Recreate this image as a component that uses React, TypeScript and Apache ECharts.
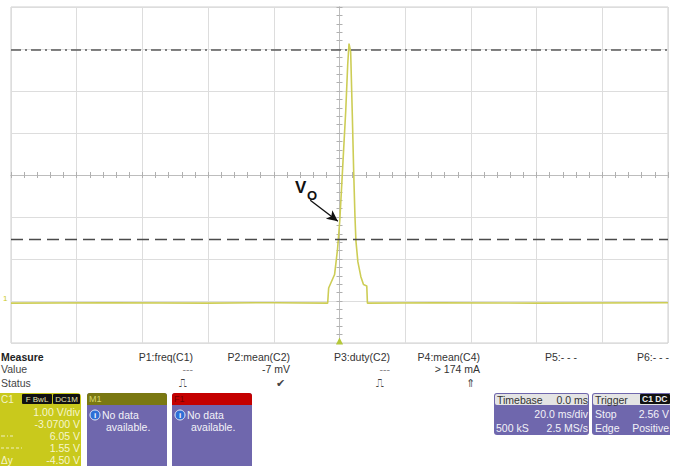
import React, { useEffect, useRef } from "react";
import * as echarts from "echarts";

// Channel C1 trace (time in ms, volts)
const timeMs = [-100, -70, -40, -20, -3.6, -3.3, -1.5, -0.6, 0.1, 1.0, 1.9, 2.5, 2.9, 3.4, 3.9, 4.3, 4.7, 5.0, 5.6, 6.5, 7.3, 8.3, 8.5, 30, 60, 100];
const voltsC1 = [0.02, 0.03, 0.02, 0.03, 0.02, 0.38, 0.7, 1.3, 2.0, 3.3, 4.6, 5.7, 6.2, 6.0, 4.5, 3.2, 2.1, 1.5, 1.0, 0.65, 0.46, 0.43, 0.02, 0.03, 0.02, 0.03];

// Scope settings
const voltsPerDiv = 1.0;
const offsetVolts = -3.07;
const msPerDiv = 20;
const cursorVolts = [6.05, 1.55];
// V_O annotation arrow (time ms, volts)
const arrowFrom = [-8.9, 2.47];
const arrowTo = [-0.5, 1.97];

// Measurement table
const measureHeaders = ["P1:freq(C1)", "P2:mean(C2)", "P3:duty(C2)", "P4:mean(C4)", "P5:- - -", "P6:- - -"];
const measureValues = ["---", "-7 mV", "---", "> 174 mA", "", ""];
const measureStatus = ["⎍", "✔", "⎍", "⇑", "", ""];
const c1Lines = ["1.00 V/div", "-3.0700 V", "6.05 V", "1.55 V", "-4.50 V"];

const toDiv = (v: number) => (v + offsetVolts) / voltsPerDiv;

const FONT = "Liberation Sans, Arial, sans-serif";
const PURPLE = "#6f67ad";
const YELLOW = "#c9c91c";

export default function App() {
  const ref = useRef<HTMLDivElement>(null);
  useEffect(() => {
    const chart = echarts.init(ref.current!, undefined, { renderer: "svg" });
    const trace = timeMs.map((t, i) => [t, toDiv(voltsC1[i])]);

    const txt = (text: string, x: number, y: number, opts: any = {}) => ({
      type: "text",
      x,
      y,
      z: 10,
      style: {
        text,
        fill: opts.fill || "#333",
        font: `${opts.weight || "normal"} ${opts.size || 10.5}px ${FONT}`,
        textAlign: opts.align || "left",
        textVerticalAlign: "middle",
      },
    });

    const colRight = [193, 290, 390, 480, 577, 669];
    const graphics: any[] = [];
    graphics.push(txt("Measure", 1, 357, { weight: "bold", fill: "#222" }));
    graphics.push(txt("Value", 1, 369, { fill: "#444" }));
    graphics.push(txt("Status", 1, 383, { fill: "#444" }));
    measureHeaders.forEach((h, i) => {
      graphics.push(txt(h, colRight[i], 357, { align: "right", fill: "#333" }));
      if (measureValues[i]) graphics.push(txt(measureValues[i], colRight[i], 369, { align: "right", fill: measureValues[i] === "---" ? "#888" : "#333" }));
      if (measureStatus[i]) graphics.push(txt(measureStatus[i], colRight[i] - 10, 383, { align: "center", fill: "#444", size: 11 }));
    });

    // C1 panel
    graphics.push({ type: "rect", z: 5, shape: { x: -5, y: 393, width: 86, height: 80, r: [0, 4, 0, 0] }, style: { fill: YELLOW } });
    graphics.push(txt("C1", 1, 399, { fill: "#f4f4c8", size: 10 }));
    graphics.push({ type: "rect", z: 6, shape: { x: 22, y: 394, width: 30, height: 10, r: 1 }, style: { fill: "#111" } });
    graphics.push({ type: "rect", z: 6, shape: { x: 53, y: 394, width: 27, height: 10, r: 1 }, style: { fill: "#111" } });
    graphics.push(txt("F BwL", 37, 399, { align: "center", fill: "#e8e8b0", size: 8 }));
    graphics.push(txt("DC1M", 66.5, 399, { align: "center", fill: "#e8e8b0", size: 8 }));
    c1Lines.forEach((s, i) => graphics.push(txt(s, 80, 412 + i * 12, { align: "right", fill: "#f6f6cc", size: 10.5 })));
    graphics.push({ type: "line", z: 6, shape: { x1: 1, y1: 436, x2: 13, y2: 436 }, style: { stroke: "#f0f0c0", lineWidth: 1, lineDash: [4, 2, 1, 2] } });
    graphics.push({ type: "line", z: 6, shape: { x1: 1, y1: 448, x2: 22, y2: 448 }, style: { stroke: "#f0f0c0", lineWidth: 1, lineDash: [3, 2] } });
    graphics.push(txt("Δy", 1, 460, { fill: "#f6f6cc", size: 10 }));

    // M1 and F1 panels
    const memPanel = (x: number, headColor: string, label: string, labelColor: string) => {
      graphics.push({ type: "rect", z: 5, shape: { x, y: 393, width: 80, height: 80, r: 3 }, style: { fill: PURPLE } });
      graphics.push({ type: "rect", z: 6, shape: { x, y: 393, width: 80, height: 12, r: [3, 3, 0, 0] }, style: { fill: headColor } });
      graphics.push(txt(label, x + 2, 399, { fill: labelColor, size: 9 }));
      graphics.push({ type: "circle", z: 6, shape: { cx: x + 8, cy: 415, r: 5 }, style: { fill: "#2f6fd6", stroke: "#e8eefc", lineWidth: 1 } });
      graphics.push(txt("i", x + 8, 415, { align: "center", fill: "#fff", weight: "bold", size: 8 }));
      graphics.push(txt("No data", x + 15, 415, { fill: "#f2f2f8" }));
      graphics.push(txt("available.", x + 19, 427, { fill: "#f2f2f8" }));
    };
    memPanel(87, "#7a7812", "M1", "#d6d66a");
    memPanel(172, "#c40000", "F1", "#7a0000");

    // Timebase panel
    graphics.push({ type: "rect", z: 5, shape: { x: 494, y: 393, width: 95, height: 42, r: 3 }, style: { fill: PURPLE } });
    graphics.push({ type: "rect", z: 6, shape: { x: 495, y: 394, width: 93, height: 11, r: 2 }, style: { fill: "#e4e4e4" } });
    graphics.push(txt("Timebase", 497, 399.5, { fill: "#333" }));
    graphics.push(txt("0.0 ms", 588, 399.5, { align: "right", fill: "#333" }));
    graphics.push(txt(`${msPerDiv.toFixed(1)} ms/div`, 588, 414, { align: "right", fill: "#f2f2f8" }));
    graphics.push(txt("500 kS", 496, 428, { fill: "#f2f2f8" }));
    graphics.push(txt("2.5 MS/s", 588, 428, { align: "right", fill: "#f2f2f8" }));

    // Trigger panel
    graphics.push({ type: "rect", z: 5, shape: { x: 592, y: 393, width: 78, height: 42, r: [3, 0, 0, 3] }, style: { fill: PURPLE } });
    graphics.push({ type: "rect", z: 6, shape: { x: 593, y: 394, width: 77, height: 11, r: [2, 0, 0, 2] }, style: { fill: "#e4e4e4" } });
    graphics.push(txt("Trigger", 595, 399.5, { fill: "#333" }));
    graphics.push({ type: "rect", z: 7, shape: { x: 640, y: 394, width: 30, height: 10, r: 1 }, style: { fill: "#111" } });
    graphics.push(txt("C1 DC", 642, 399, { fill: "#eee", size: 8.5, weight: "bold" }));
    graphics.push(txt("Stop", 595, 414, { fill: "#f2f2f8" }));
    graphics.push(txt("2.56 V", 669, 414, { align: "right", fill: "#f2f2f8" }));
    graphics.push(txt("Edge", 595, 428, { fill: "#f2f2f8" }));
    graphics.push(txt("Positive", 669, 428, { align: "right", fill: "#f2f2f8" }));

    // V_O annotation label and channel marker
    graphics.push(txt("V", 295, 187, { fill: "#111", weight: "bold", size: 17 }));
    graphics.push(txt("O", 307, 195, { fill: "#111", weight: "bold", size: 13 }));
    graphics.push(txt("1", 3, 298, { fill: YELLOW, size: 8 }));

    const axisCommon = {
      type: "value",
      axisLabel: { show: false },
      axisLine: { show: true, onZero: true, onZeroAxisIndex: 0, lineStyle: { color: "#bdbdbd", width: 1 } },
      axisTick: { show: true, length: 3, lineStyle: { color: "#b0b0b0" } },
      minorTick: { show: true, splitNumber: 5, length: 3, lineStyle: { color: "#b0b0b0" } },
      minorSplitLine: { show: false },
    };

    chart.setOption({
      animation: false,
      backgroundColor: "#ffffff",
      grid: { left: 11, top: 7, width: 657, height: 336, show: true, borderColor: "#cfcfcf", borderWidth: 1, containLabel: false },
      xAxis: [
        { ...axisCommon, position: "bottom", min: -5 * msPerDiv, max: 5 * msPerDiv, interval: msPerDiv, splitLine: { show: true, lineStyle: { color: "#dddddd", width: 1 } } },
        { ...axisCommon, position: "top", min: -5 * msPerDiv, max: 5 * msPerDiv, interval: msPerDiv, splitLine: { show: false } },
      ],
      yAxis: [
        { ...axisCommon, position: "left", min: -4, max: 4, interval: 1, splitLine: { show: true, lineStyle: { color: "#dddddd", width: 1 } } },
        { ...axisCommon, position: "right", min: -4, max: 4, interval: 1, splitLine: { show: false } },
      ],
      series: [
        {
          type: "line",
          xAxisIndex: 0,
          yAxisIndex: 0,
          data: trace,
          showSymbol: false,
          symbol: "none",
          lineStyle: { color: "#cdcd55", width: 1.6 },
          z: 3,
          markLine: {
            silent: true,
            symbol: ["none", "none"],
            label: { show: false },
            data: [
              { yAxis: toDiv(cursorVolts[0]), lineStyle: { color: "#5a5a5a", width: 1.6, type: [10, 4, 2, 4] } },
              { yAxis: toDiv(cursorVolts[1]), lineStyle: { color: "#4a4a4a", width: 1.4, type: [12, 6] } },
              [
                { coord: [arrowFrom[0], toDiv(arrowFrom[1])], symbol: "none", lineStyle: { color: "#111", width: 1.3, type: "solid" } },
                { coord: [arrowTo[0], toDiv(arrowTo[1])], symbol: "arrow", symbolSize: [8, 11] },
              ],
            ],
          },
          markPoint: {
            silent: true,
            symbol: "triangle",
            symbolSize: [7, 7],
            symbolOffset: [0, -2],
            label: { show: false },
            itemStyle: { color: "#b5c83a" },
            data: [{ coord: [0, -4] }],
          },
        },
      ],
      graphic: graphics,
    });
    return () => chart.dispose();
  }, []);
  return <div ref={ref} style={{ position: "absolute", left: 0, top: 0, width: 680, height: 466 }} />;
}
